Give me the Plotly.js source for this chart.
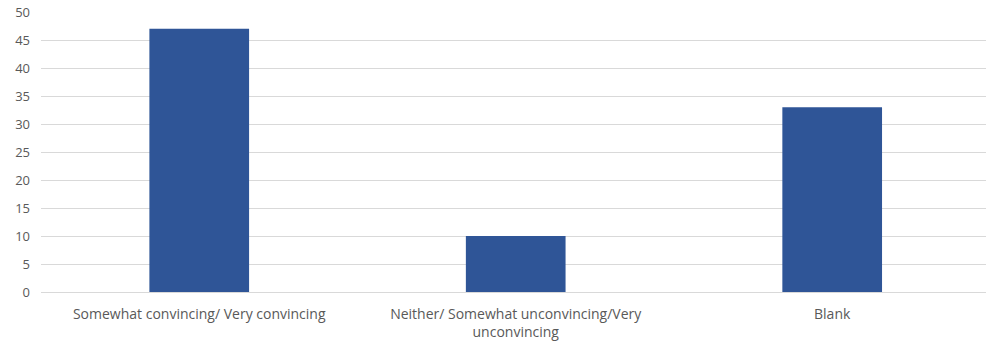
<!DOCTYPE html>
<html>
<head>
<meta charset="utf-8">
<script src="https://cdn.plot.ly/plotly-3.0.1.min.js"></script>
<style>
  html, body { margin: 0; padding: 0; background: #ffffff; }
  #chart { width: 986px; height: 346px; }
</style>
</head>
<body>
<div id="chart"></div>
<script>
// Response categories and counts
const categories = [
  "Somewhat convincing/ Very convincing",
  "Neither/ Somewhat unconvincing/Very<br>unconvincing",
  "Blank"
];
const counts = [47, 10, 33];
const yTickValues = [0, 5, 10, 15, 20, 25, 30, 35, 40, 45, 50];

const trace = {
  type: "bar",
  x: categories,
  y: counts,
  width: 0.315,
  marker: { color: "#2F5597", line: { width: 0 } },
  hoverinfo: "x+y"
};

const layout = {
  width: 986,
  height: 346,
  margin: { l: 41, r: 0, t: 12, b: 54 },
  paper_bgcolor: "#ffffff",
  plot_bgcolor: "#ffffff",
  showlegend: false,
  font: { family: "Open Sans, Lato, sans-serif", size: 12.5, color: "#595959" },
  xaxis: {
    type: "category",
    range: [-0.5, 2.486],
    showgrid: false,
    showline: true,
    linecolor: "#d9d9d9",
    linewidth: 1,
    ticks: "",
    tickfont: { size: 14, color: "#595959" },
    ticklabelstandoff: 9
  },
  yaxis: {
    range: [0, 50],
    tickvals: yTickValues,
    showgrid: true,
    gridcolor: "#d9d9d9",
    gridwidth: 1,
    zeroline: false,
    showline: false,
    ticks: "",
    tickfont: { size: 13, color: "#595959" },
    ticklabelstandoff: 10
  }
};

Plotly.newPlot("chart", [trace], layout, { displayModeBar: false, staticPlot: true });
</script>
</body>
</html>
